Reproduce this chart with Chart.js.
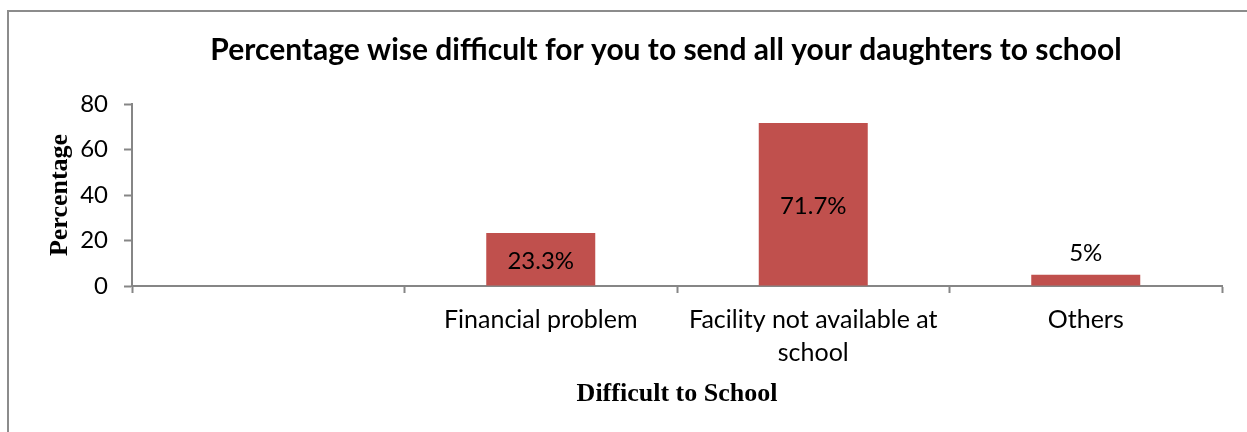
<!DOCTYPE html>
<html>
<head>
<meta charset="utf-8">
<script src="https://cdn.jsdelivr.net/npm/chart.js@4/dist/chart.umd.min.js"></script>
<style>
  html, body { margin: 0; padding: 0; background: #ffffff; }
  #wrap { position: relative; width: 1247px; height: 432px; overflow: hidden; }
  #frame {
    position: absolute; left: 7px; top: 10px; width: 1260px; height: 440px;
    border-top: 2px solid #8c8c8c; border-left: 2px solid #8c8c8c;
    box-sizing: border-box; pointer-events: none;
  }
  #chart { position: absolute; left: 0; top: 0; }
</style>
</head>
<body>
<div id="wrap">
  <div id="frame"></div>
  <canvas id="chart" width="1247" height="432"></canvas>
</div>
<script>
// Survey answers: share of respondents per reason
const categories = ['', 'Financial problem', ['Facility not available at', 'school'], 'Others'];
const percentages = [null, 23.3, 71.7, 5];
const valueLabels = ['', '23.3%', '71.7%', '5%'];
const yTicks = [0, 20, 40, 60, 80];

const axisGray = '#868686';
const barRed = '#C0504D';
const sansFont = "Lato, 'Open Sans', sans-serif";
const serifFont = "'Liberation Serif', 'DejaVu Serif', serif";

// Writes the value label of each bar: centred inside tall bars, above short ones
const barValueLabels = {
  id: 'barValueLabels',
  afterDatasetsDraw(chart) {
    const ctx = chart.ctx;
    const meta = chart.getDatasetMeta(0);
    ctx.save();
    ctx.font = '24px ' + sansFont;
    ctx.fillStyle = '#000000';
    ctx.textAlign = 'center';
    ctx.textBaseline = 'middle';
    meta.data.forEach((bar, i) => {
      const text = valueLabels[i];
      if (!text) return;
      const h = bar.base - bar.y;
      if (h > 36) {
        ctx.fillText(text, bar.x, (bar.y + bar.base) / 2 + 2);
      } else {
        ctx.fillText(text, bar.x, bar.y - 21);
      }
    });
    ctx.restore();
  }
};

// Centres the title a little right of the canvas middle, over the plot
const titleShift = {
  id: 'titleShift',
  afterLayout(chart) {
    const t = chart.titleBlock;
    if (t) { t.left += 55; t.right += 55; }
  }
};

new Chart(document.getElementById('chart'), {
  type: 'bar',
  data: {
    labels: categories,
    datasets: [{
      data: percentages,
      backgroundColor: barRed,
      borderWidth: 0,
      categoryPercentage: 1.0,
      barPercentage: 0.4
    }]
  },
  options: {
    responsive: false,
    animation: false,
    events: [],
    layout: { padding: { left: 0, right: 25, top: 0, bottom: 0 } },
    plugins: {
      legend: { display: false },
      tooltip: { enabled: false },
      title: {
        display: true,
        text: 'Percentage wise difficult for you to send all your daughters to school',
        color: '#000000',
        font: { family: sansFont, size: 30, weight: 'bold', lineHeight: 1.2 },
        padding: { top: 32, bottom: 36 }
      }
    },
    scales: {
      x: {
        grid: {
          offset: true,
          drawOnChartArea: false,
          drawTicks: true,
          tickLength: 7,
          tickWidth: 2,
          tickColor: axisGray
        },
        border: { display: true, color: axisGray, width: 2 },
        ticks: {
          color: '#000000',
          font: { family: sansFont, size: 25, lineHeight: 1.3 },
          padding: 11,
          maxRotation: 0,
          autoSkip: false
        },
        title: {
          display: true,
          text: 'Difficult to School',
          color: '#000000',
          font: { family: serifFont, size: 26, weight: 'bold', lineHeight: 1.2 },
          padding: { top: 10, bottom: 22 }
        },
        afterFit(scale) { scale.height = 146; }
      },
      y: {
        min: 0,
        max: 80,
        afterBuildTicks(scale) { scale.ticks = yTicks.map(v => ({ value: v })); },
        grid: {
          drawOnChartArea: false,
          drawTicks: true,
          tickLength: 8,
          tickWidth: 2,
          tickColor: axisGray
        },
        border: { display: true, color: axisGray, width: 2 },
        ticks: {
          color: '#000000',
          font: { family: sansFont, size: 24 },
          padding: 16
        },
        title: {
          display: true,
          text: 'Percentage',
          color: '#000000',
          font: { family: serifFont, size: 26, weight: 'bold', lineHeight: 1.2 },
          padding: { top: 45, bottom: 4 }
        },
        afterFit(scale) { scale.width = 132; }
      }
    }
  },
  plugins: [barValueLabels, titleShift]
});
</script>
</body>
</html>
